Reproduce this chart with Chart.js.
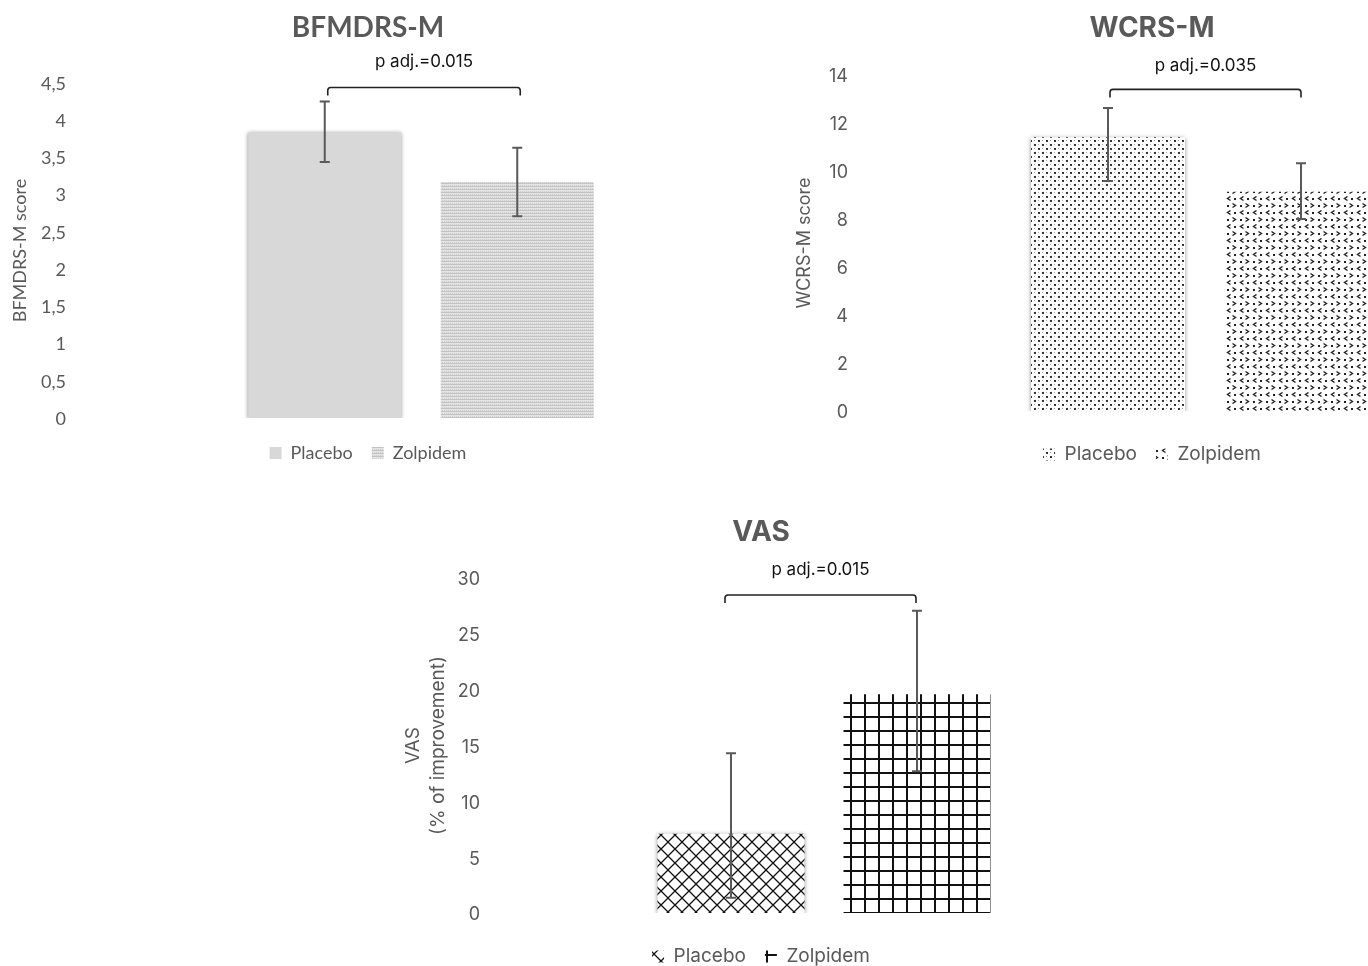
<!DOCTYPE html>
<html>
<head>
<meta charset="utf-8">
<script src="https://cdn.jsdelivr.net/npm/chart.js@4.4.0/dist/chart.umd.min.js"></script>
<style>
  html, body { margin: 0; padding: 0; background: #fff; width: 1368px; height: 966px; overflow: hidden; position: relative; }
  canvas { position: absolute; }
  #bfmdrs { left: 0; top: 0; }
  #wcrs { left: 770px; top: 0; }
  #vas { left: 374px; top: 492px; }
</style>
</head>
<body>
<canvas id="bfmdrs" width="736" height="472"></canvas>
<canvas id="wcrs" width="766" height="474"></canvas>
<canvas id="vas" width="774" height="484"></canvas>
<script>
// groups (one cluster, two series)
const groups = ['Placebo', 'Zolpidem'];

// BFMDRS-M score
const bfmdrsMean = [3.84, 3.17];
const bfmdrsErrUp = [0.41, 0.46];
const bfmdrsErrDown = [0.40, 0.46];
const bfmdrsP = 'p adj.=0.015';

// WCRS-M score
const wcrsMean = [11.41, 9.14];
const wcrsErrUp = [1.22, 1.18];
const wcrsErrDown = [1.83, 1.14];
const wcrsP = 'p adj.=0.035';

// VAS (% of improvement)
const vasMean = [7.1, 19.6];
const vasErrUp = [7.2, 7.46];
const vasErrDown = [5.73, 6.9];
const vasP = 'p adj.=0.015';

const grey = '#595959';

// little pattern tiles, like the excel fills
function tile(w, h, draw) {
  const c = document.createElement('canvas');
  c.width = w; c.height = h;
  const g = c.getContext('2d');
  draw(g);
  return g.createPattern(c, 'repeat');
}

const fillBfPlacebo = '#d8d8d8';
const fillBfZolpidem = tile(2, 3, g => {
  g.fillStyle = '#e4e4e4'; g.fillRect(0, 0, 2, 3);
  g.fillStyle = '#c3c3c3'; g.fillRect(0, 0, 2, 1);
  g.fillStyle = '#d0d0d0'; g.fillRect(0, 2, 1, 1);
});
const fillWcPlacebo = tile(8, 8, g => {
  g.fillStyle = '#fff'; g.fillRect(0, 0, 8, 8);
  g.fillStyle = '#333';
  g.fillRect(0, 0, 2, 2);
  g.fillRect(4, 4, 2, 2);
  g.fillStyle = '#9a9a9a';
  g.fillRect(4, 0, 1, 1);
  g.fillRect(0, 4, 1, 1);
});
const fillWcZolpidem = tile(13, 14, g => {
  g.fillStyle = '#fff'; g.fillRect(0, 0, 13, 14);
  g.strokeStyle = '#222'; g.lineWidth = 1.4;
  g.beginPath();
  g.moveTo(5.5, 0.5); g.lineTo(2.5, 2.5); g.lineTo(5.5, 4.5);
  g.moveTo(7.5, 7.5); g.lineTo(10.5, 9.5); g.lineTo(7.5, 11.5);
  g.stroke();
  g.fillStyle = '#222';
  g.fillRect(9, 2, 2, 2);
  g.fillRect(2, 9, 2, 2);
});
const fillVasPlacebo = tile(14, 14, g => {
  g.fillStyle = '#fff'; g.fillRect(0, 0, 14, 14);
  g.strokeStyle = '#111'; g.lineWidth = 1.3;
  g.beginPath();
  g.moveTo(-1, -1); g.lineTo(15, 15);
  g.moveTo(15, -1); g.lineTo(-1, 15);
  g.stroke();
});
const fillVasZolpidem = tile(14, 14, g => {
  g.fillStyle = '#111';
  g.fillRect(0, 0, 2, 14);
  g.fillRect(0, 0, 14, 2);
});

// error bars, drawn from the y scale
const errBars = {
  id: 'errbars',
  afterDatasetsDraw(chart, args, opts) {
    const ctx = chart.ctx;
    const y = chart.scales.y;
    ctx.save();
    ctx.strokeStyle = grey;
    ctx.lineWidth = 2;
    chart.data.datasets.forEach((ds, i) => {
      const bar = chart.getDatasetMeta(i).data[0];
      const v = ds.data[0];
      const top = y.getPixelForValue(v + opts.up[i]);
      const bot = y.getPixelForValue(v - opts.down[i]);
      ctx.beginPath();
      ctx.moveTo(bar.x, top); ctx.lineTo(bar.x, bot);
      ctx.moveTo(bar.x - 5, top); ctx.lineTo(bar.x + 5, top);
      ctx.moveTo(bar.x - 5, bot); ctx.lineTo(bar.x + 5, bot);
      ctx.stroke();
    });
    ctx.restore();
  }
};

// significance bracket + p text
const bracket = {
  id: 'bracket',
  afterDatasetsDraw(chart, args, opts) {
    const ctx = chart.ctx;
    const x1 = chart.getDatasetMeta(0).data[0].x + opts.dx[0];
    const x2 = chart.getDatasetMeta(1).data[0].x + opts.dx[1];
    const yy = chart.scales.y.getPixelForValue(opts.level);
    ctx.save();
    ctx.strokeStyle = '#222';
    ctx.lineWidth = 1.6;
    ctx.beginPath();
    ctx.moveTo(x1, yy + 8);
    ctx.lineTo(x1, yy + 3);
    ctx.quadraticCurveTo(x1, yy, x1 + 3, yy);
    ctx.lineTo(x2 - 3, yy);
    ctx.quadraticCurveTo(x2, yy, x2, yy + 3);
    ctx.lineTo(x2, yy + 8);
    ctx.stroke();
    ctx.fillStyle = '#111';
    ctx.font = '17px Inter, "Noto Sans", sans-serif';
    ctx.textAlign = 'center';
    ctx.textBaseline = 'middle';
    ctx.fillText(opts.text, (x1 + x2) / 2, yy - opts.textUp);
    ctx.restore();
  }
};

// soft excel-like shadow on some bars
const barShadow = {
  id: 'barShadow',
  beforeDatasetDraw(chart, args) {
    if (!chart.data.datasets[args.index].shadow) return;
    const ctx = chart.ctx;
    ctx.save();
    ctx.shadowColor = 'rgba(0,0,0,0.45)';
    ctx.shadowBlur = 4;
    ctx.shadowOffsetX = 0;
    ctx.shadowOffsetY = 1;
  },
  afterDatasetDraw(chart, args) {
    if (!chart.data.datasets[args.index].shadow) return;
    chart.ctx.restore();
  }
};

function makeChart(id, s) {
  return new Chart(document.getElementById(id), {
    type: 'bar',
    data: {
      labels: [''],
      datasets: groups.map((g, i) => ({
        label: g,
        data: [s.mean[i]],
        backgroundColor: s.fills[i],
        borderWidth: 0,
        shadow: s.shadow[i],
        categoryPercentage: s.catPct,
        barPercentage: s.barPct
      }))
    },
    options: {
      responsive: false,
      animation: false,
      events: [],
      layout: { padding: { left: 0, right: s.padRight, top: 0, bottom: 0 } },
      scales: {
        x: {
          display: true,
          grid: { display: false },
          border: { display: false },
          ticks: { display: false },
          afterFit: a => { a.height = s.xGap; }
        },
        y: {
          min: 0, max: s.max,
          grid: { display: false, drawTicks: false },
          border: { display: false },
          ticks: {
            stepSize: s.step,
            padding: s.tickPad,
            labelOffset: s.tickNudge,
            color: grey,
            font: { family: s.family, size: 18 },
            callback: v => String(v).replace('.', ',')
          },
          title: {
            display: true,
            text: s.yTitle,
            color: grey,
            font: { family: s.family, size: s.yTitleSize, lineHeight: s.yTitleLh },
            padding: { top: s.yTitlePad, bottom: 0 }
          },
          afterFit: a => { a.width = s.axisWidth; }
        }
      },
      plugins: {
        tooltip: { enabled: false },
        title: {
          display: true,
          text: s.title,
          color: grey,
          font: { family: s.family, size: s.titleSize, weight: 'bold', lineHeight: 1.2 },
          padding: s.titlePad
        },
        legend: {
          position: 'bottom',
          labels: {
            boxWidth: 12, boxHeight: 12,
            padding: 19,
            color: grey,
            font: { family: s.family, size: s.legendSize }
          }
        },
        errbars: { up: s.up, down: s.down },
        bracket: { level: s.level, text: s.p, dx: s.bracketDx, textUp: s.textUp }
      }
    },
    plugins: [barShadow, errBars, bracket]
  });
}

makeChart('bfmdrs', {
  mean: bfmdrsMean, up: bfmdrsErrUp, down: bfmdrsErrDown, p: bfmdrsP,
  fills: [fillBfPlacebo, fillBfZolpidem], shadow: [true, false],
  title: 'BFMDRS-M', yTitle: 'BFMDRS-M score',
  family: 'Lato, "Open Sans", sans-serif', titleSize: 28, yTitleSize: 18, yTitleLh: 1.45,
  legendSize: 18,
  titlePad: { top: 11, bottom: 38.4 },
  max: 4.5, step: 0.5, level: 4.44, bracketDx: [3, 3], textUp: 26,
  axisWidth: 106, tickPad: 40, tickNudge: 1, yTitlePad: 7, padRight: 0, xGap: 7,
  catPct: 385 / 630, barPct: 0.795
});

makeChart('wcrs', {
  mean: wcrsMean, up: wcrsErrUp, down: wcrsErrDown, p: wcrsP,
  fills: [fillWcPlacebo, fillWcZolpidem], shadow: [true, false],
  title: 'WCRS-M', yTitle: 'WCRS-M score',
  family: 'Inter, "Noto Sans", sans-serif', titleSize: 28, yTitleSize: 18, yTitleLh: 1.45,
  legendSize: 19,
  titlePad: { top: 12, bottom: 29.4 },
  max: 14, step: 2, level: 13.4, bracketDx: [2, 0], textUp: 24,
  axisWidth: 105, tickPad: 27, tickNudge: 2, yTitlePad: 22, padRight: 2, xGap: 15,
  catPct: 386 / 659, barPct: 0.798
});

makeChart('vas', {
  mean: vasMean, up: vasErrUp, down: vasErrDown, p: vasP,
  fills: [fillVasPlacebo, fillVasZolpidem], shadow: [true, false],
  title: 'VAS', yTitle: ['VAS', '(% of improvement)'],
  family: 'Inter, "Noto Sans", sans-serif', titleSize: 28, yTitleSize: 19, yTitleLh: 1.35,
  legendSize: 19,
  titlePad: { top: 23.5, bottom: 28.9 },
  max: 30, step: 5, level: 28.48, bracketDx: [-6, -1], textUp: 25,
  axisWidth: 126, tickPad: 20, tickNudge: 2, yTitlePad: 26.2, padRight: 0, xGap: 15,
  catPct: 372 / 648, barPct: 0.79
});
</script>
</body>
</html>
